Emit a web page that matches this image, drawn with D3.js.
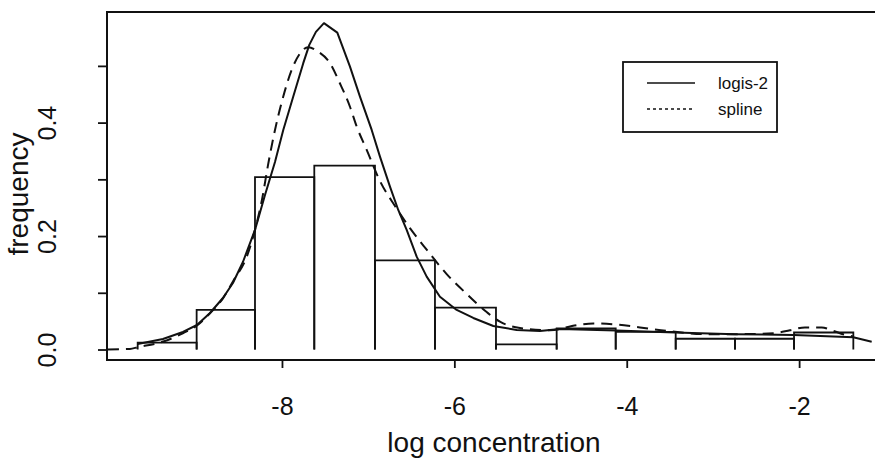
<!DOCTYPE html>
<html><head><meta charset="utf-8">
<script src="https://cdn.jsdelivr.net/npm/d3@7"></script>
<style>html,body{margin:0;padding:0;background:#fff;}svg{display:block;}</style>
</head><body>
<svg id="c" width="875" height="467"></svg>
<script>
// ---- data ----
const binEdges = [-9.674, -8.990, -8.313, -7.625, -6.921, -6.225, -5.517, -4.813, -4.128, -3.432, -2.744, -2.059, -1.371];
const binHeights = [0.012, 0.070, 0.304, 0.324, 0.157, 0.074, 0.009, 0.037, 0.031, 0.019, 0.019, 0.030];

const logisX = [-9.674,-9.381,-9.149,-8.986,-8.835,-8.685,-8.569,-8.453,-8.313,-8.197,-8.081,-7.985,-7.869,-7.753,-7.683,-7.606,-7.513,-7.358,-7.211,-7.095,-6.959,-6.863,-6.747,-6.651,-6.553,-6.437,-6.321,-6.167,-5.973,-5.780,-5.548,-5.277,-5.007,-4.775,-4.125,-3.440,-2.744,-2.060,-1.372,-1.158];
const logisY = [0.0097,0.0185,0.0309,0.0432,0.0644,0.0908,0.1173,0.1543,0.2108,0.2725,0.3307,0.3871,0.4459,0.5048,0.5370,0.5600,0.5753,0.5587,0.4988,0.4459,0.3871,0.3400,0.2871,0.2460,0.2108,0.1637,0.1284,0.0931,0.0697,0.0556,0.0414,0.0344,0.0326,0.0362,0.0335,0.0300,0.0270,0.0256,0.0215,0.0138];

const splineX = [-10.019,-9.764,-9.674,-9.377,-9.145,-8.990,-8.835,-8.681,-8.565,-8.410,-8.313,-8.232,-8.162,-8.081,-7.985,-7.887,-7.791,-7.695,-7.579,-7.443,-7.327,-7.211,-7.133,-7.017,-6.863,-6.689,-6.515,-6.321,-6.089,-5.857,-5.625,-5.471,-5.239,-4.891,-4.581,-4.388,-4.117,-3.847,-3.545,-3.054,-2.744,-2.280,-2.106,-1.932,-1.738,-1.622,-1.468,-1.372];
const splineY = [0.000,0.001,0.004,0.014,0.029,0.042,0.064,0.091,0.121,0.163,0.211,0.264,0.325,0.387,0.446,0.493,0.522,0.533,0.525,0.505,0.469,0.428,0.393,0.352,0.297,0.253,0.214,0.176,0.133,0.098,0.066,0.049,0.038,0.034,0.043,0.046,0.044,0.039,0.033,0.027,0.027,0.029,0.034,0.039,0.039,0.034,0.026,0.023];

const xTicks = [-8, -6, -4, -2];
const yTicks = [0, 0.1, 0.2, 0.3, 0.4, 0.5];
const yTickLabels = ["0.0", "", "0.2", "", "0.4", ""];
const legendLabels = ["logis-2", "spline"];
const xTitle = "log concentration";
const yTitle = "frequency";

// ---- drawing ----
const svg = d3.select("#c");
const FONT = "'Liberation Sans', Arial, Helvetica, sans-serif";
const L = 107, R = 881, T = 12, B = 360;
const x = d3.scaleLinear().domain([-10.03, -1.05]).range([L, R]);
const y = d3.scaleLinear().domain([-0.0185, 0.595]).range([B, T]);
const ink = "#111";

// frame
svg.append("rect").attr("x", L).attr("y", T).attr("width", R - L).attr("height", B - T)
  .attr("fill", "none").attr("stroke", ink).attr("stroke-width", 2);

// x axis ticks + labels
const xa = svg.append("g").attr("transform", `translate(0,${B})`)
  .call(d3.axisBottom(x).tickValues(xTicks).tickSize(8).tickSizeOuter(0).tickFormat(d => "-" + Math.abs(d)));
xa.select(".domain").remove();
xa.selectAll(".tick line").attr("stroke", ink).attr("stroke-width", 1.8);
xa.selectAll(".tick text").attr("font-family", FONT).attr("font-size", 25).attr("fill", ink)
  .attr("dy", null).attr("y", 55);

// y axis ticks + rotated labels
const ya = svg.append("g").attr("transform", `translate(${L},0)`)
  .call(d3.axisLeft(y).tickValues(yTicks).tickSize(9).tickSizeOuter(0).tickFormat((d, i) => yTickLabels[i]));
ya.select(".domain").remove();
ya.selectAll(".tick line").attr("stroke", ink).attr("stroke-width", 1.8);
ya.selectAll(".tick text").attr("font-family", FONT).attr("font-size", 25).attr("fill", ink)
  .attr("x", null).attr("dy", null).attr("text-anchor", "middle")
  .attr("transform", "translate(-51,0) rotate(-90)");

// titles
svg.append("text").attr("x", 494).attr("y", 452).attr("text-anchor", "middle")
  .attr("font-family", FONT).attr("font-size", 28).attr("fill", ink).text(xTitle);
svg.append("text").attr("transform", "translate(28,194) rotate(-90)").attr("text-anchor", "middle")
  .attr("font-family", FONT).attr("font-size", 28).attr("fill", ink).text(yTitle);

// histogram bars (no bottom edge)
const bars = binHeights.map((h, i) => ({x0: binEdges[i], x1: binEdges[i + 1], h}));
svg.append("g").selectAll("path").data(bars).join("path")
  .attr("d", d => `M${x(d.x0)},${y(0)}V${y(d.h)}H${x(d.x1)}V${y(0)}`)
  .attr("fill", "none").attr("stroke", ink).attr("stroke-width", 1.8);

// curves
const lineSolid = d3.line().x(d => x(d[0])).y(d => y(d[1])).curve(d3.curveLinear);
const lineDash = d3.line().x(d => x(d[0])).y(d => y(d[1])).curve(d3.curveMonotoneX);
const logis = logisX.map((v, i) => [v, logisY[i]]);
const spline = splineX.map((v, i) => [v, splineY[i]]);
svg.append("clipPath").attr("id", "pc").append("rect")
  .attr("x", L).attr("y", T).attr("width", R - L).attr("height", B - T);
svg.append("path").datum(logis).attr("d", lineSolid).attr("clip-path", "url(#pc)")
  .attr("fill", "none").attr("stroke", ink).attr("stroke-width", 2).attr("stroke-linejoin", "round");
svg.append("path").datum(spline).attr("d", lineDash).attr("clip-path", "url(#pc)")
  .attr("fill", "none").attr("stroke", ink).attr("stroke-width", 2).attr("stroke-dasharray", "11,7");

// legend
const lg = svg.append("g");
lg.append("rect").attr("x", 623).attr("y", 62).attr("width", 154).attr("height", 70)
  .attr("fill", "#fff").attr("stroke", ink).attr("stroke-width", 1.8);
const ly = [83, 109];
const dashes = [null, "3,3"];
legendLabels.forEach((lab, i) => {
  lg.append("line").attr("x1", 647).attr("x2", 695).attr("y1", ly[i]).attr("y2", ly[i])
    .attr("stroke", ink).attr("stroke-width", 1.6).attr("stroke-dasharray", dashes[i]);
  lg.append("text").attr("x", 718).attr("y", ly[i] + 6).attr("font-family", FONT)
    .attr("font-size", 17).attr("fill", ink).text(lab);
});
</script>
</body></html>
